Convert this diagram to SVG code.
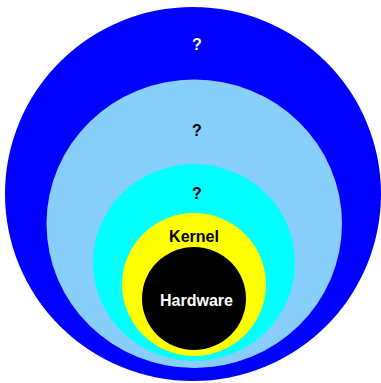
<svg xmlns="http://www.w3.org/2000/svg" width="381" height="383" viewBox="0 0 381 383">
<style>
text{font-family:"Liberation Sans",Arial,sans-serif;font-weight:bold;font-size:16px;text-anchor:middle}
.w{fill:#ffffff}
.k{fill:#000000}
</style>
<rect width="381" height="383" fill="#ffffff"/>
<g id="layer-outer"><ellipse cx="193" cy="194" rx="188" ry="187" fill="#0000ff"/><text class="w" x="197" y="50">?</text></g>
<g id="layer-2"><ellipse cx="194.25" cy="223.75" rx="147.75" ry="144.25" fill="#87cefa"/><text class="k" x="197" y="136">?</text></g>
<g id="layer-3"><ellipse cx="194" cy="262.5" rx="101" ry="98.5" fill="#00ffff"/><text class="k" x="197" y="199">?</text></g>
<g id="kernel"><ellipse cx="194" cy="284.5" rx="72" ry="71.5" fill="#ffff00"/><text class="k" x="194" y="242">Kernel</text></g>
<g id="hardware"><ellipse cx="194" cy="298.5" rx="52" ry="51.5" fill="#000000"/><text class="w" x="196.5" y="306">Hardware</text></g>
<g id="connectors"/>
</svg>
